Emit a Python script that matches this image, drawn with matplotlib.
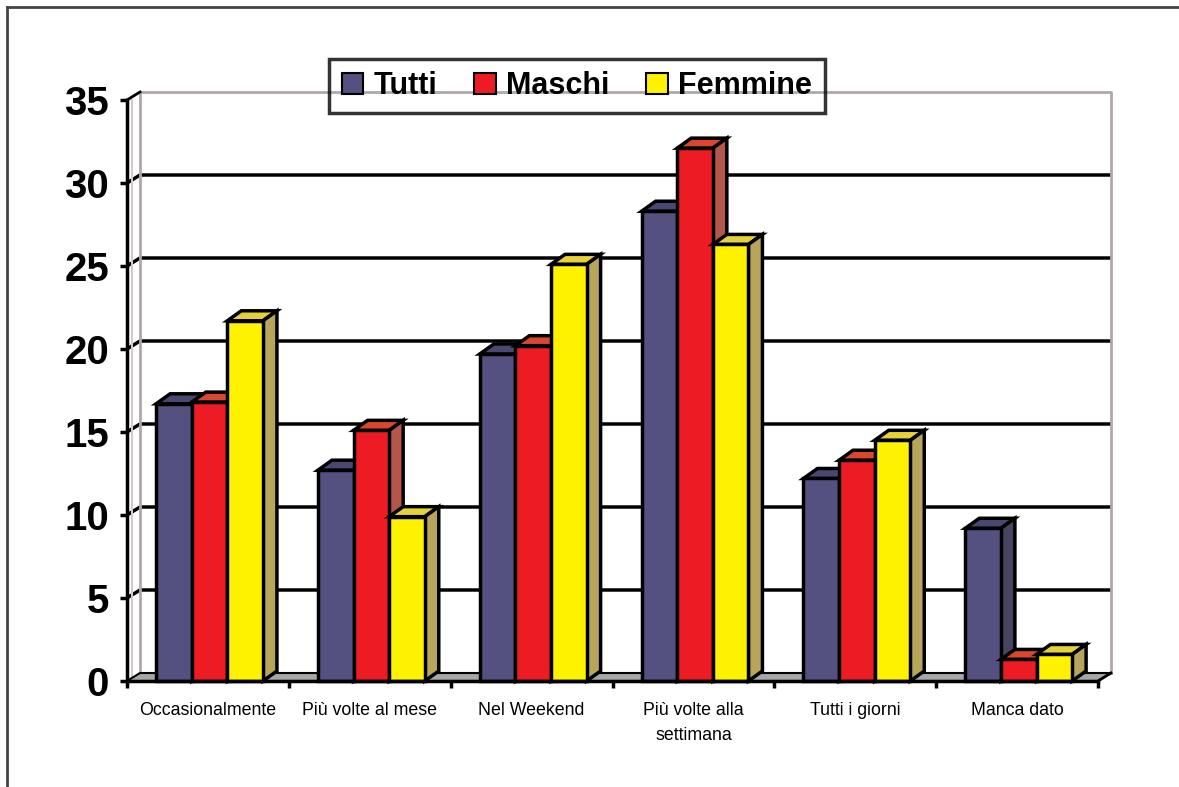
import matplotlib
matplotlib.use("Agg")
import matplotlib.pyplot as plt
from matplotlib.patches import Polygon, Patch
from matplotlib.lines import Line2D

plt.rcParams['font.family'] = ['Liberation Sans', 'DejaVu Sans']

# dati
categorie = ['Occasionalmente', 'Più volte al mese', 'Nel Weekend',
             'Più volte alla\nsettimana', 'Tutti i giorni', 'Manca dato']
serie = ['Tutti', 'Maschi', 'Femmine']
tutti = [16.7, 12.7, 19.7, 28.3, 12.2, 9.2]
maschi = [16.8, 15.1, 20.2, 32.1, 13.3, 1.3]
femmine = [21.7, 9.9, 25.1, 26.3, 14.5, 1.6]
valori = [tutti, maschi, femmine]
y_ticks = [0, 5, 10, 15, 20, 25, 30, 35]

# colori: fronte, sopra, lato
col_fronte = ['#545080', '#ed1c24', '#fff200']
col_sopra = ['#4a4872', '#d9472f', '#e5d23a']
col_lato = ['#474460', '#b4574a', '#b6a55a']

W, H = 1179, 787
fig = plt.figure(figsize=(W / 100, H / 100), dpi=100)
ax = fig.add_axes([127 / W, (H - 681) / H, 971 / W, 581 / H])
ax.set_xlim(0, 6)
ax.set_ylim(0, 35)

ux = 6 / 971   # unita' x per pixel
uy = 35 / 581  # unita' y per pixel
dxw, dyw = 13 * ux, 8 * uy   # profondita' pareti
dxb, dyb = 14 * ux, 10 * uy  # profondita' barre

# parete di fondo con griglia
for v in y_ticks[1:-1]:
    ax.plot([0, dxw, 6 + dxw], [v, v + dyw, v + dyw], color='black', lw=2.5,
            zorder=1, clip_on=False, solid_capstyle='butt')
grigio = '#b0a8a8'
ax.plot([dxw, dxw, 6 + dxw, 6 + dxw], [dyw, 35 + dyw, 35 + dyw, dyw],
        color=grigio, lw=2, zorder=1, clip_on=False)
ax.plot([5 * ux, 5 * ux], [0.2, 35], color='#d0cccc', lw=1.5, zorder=1, clip_on=False)
ax.plot([0, dxw], [35, 35 + dyw], color='black', lw=2, zorder=1, clip_on=False)

# pavimento
ax.add_patch(Polygon([(0, 0), (6, 0), (6 + dxw, dyw), (dxw, dyw)], closed=True,
                     facecolor='#a7a7a7', edgecolor='black', lw=1.5, zorder=2, clip_on=False))

# barre 3D
larg = 0.22
for j in range(3):
    x_sx = [i + 0.18 + j * larg for i in range(6)]
    barre = ax.bar(x_sx, valori[j], width=larg, align='edge', color=col_fronte[j],
                   edgecolor='black', lw=2.5, clip_on=False)
    for i, (p, h) in enumerate(zip(barre, valori[j])):
        k = i * 3 + j
        p.set_zorder(3 + k * 0.1 + 0.05)
        x0 = x_sx[i]
        x1 = x0 + larg
        ax.add_patch(Polygon([(x0, h), (x1, h), (x1 + dxb, h + dyb), (x0 + dxb, h + dyb)],
                             closed=True, facecolor=col_sopra[j], edgecolor='black',
                             lw=2.5, zorder=3 + k * 0.1, clip_on=False))
        ax.add_patch(Polygon([(x1, 0), (x1 + dxb, dyb), (x1 + dxb, h + dyb), (x1, h)],
                             closed=True, facecolor=col_lato[j], edgecolor='black',
                             lw=2.5, zorder=3 + k * 0.1, clip_on=False))

ax.plot([6, 6 + dxw], [0, dyw], color='black', lw=2, zorder=10, clip_on=False)

# assi frontali
for s in ['top', 'right']:
    ax.spines[s].set_visible(False)
for s in ['left', 'bottom']:
    ax.spines[s].set_linewidth(2.5)
    ax.spines[s].set_zorder(20)
ax.set_yticks(y_ticks)
ax.set_yticklabels([str(v) for v in y_ticks], fontsize=29, fontweight='bold')
ax.tick_params(axis='y', length=5, width=2.5, pad=8)
ax.set_xticks(range(7))
ax.set_xticklabels([''] * 7)
ax.tick_params(axis='x', which='major', length=5, width=2.5)
ax.set_xticks([i + 0.5 for i in range(6)], minor=True)
ax.set_xticklabels(categorie, minor=True, fontsize=12.8)
ax.tick_params(axis='x', which='minor', length=0, pad=15)
for t in ax.get_xticklabels(minor=True):
    t.set_linespacing(1.6)

# legenda
maniglie = [Patch(facecolor=c, edgecolor='black', lw=1.5) for c in col_fronte]
leg = fig.legend(maniglie, serie, loc='center', ncol=3,
                 bbox_to_anchor=(577 / W, 1 - 86 / H),
                 prop={'size': 22, 'weight': 'bold'}, frameon=True, fancybox=False,
                 handlelength=0.7, handleheight=0.7, handletextpad=0.35,
                 columnspacing=1.2, borderpad=0.4)
leg.get_frame().set_facecolor('none')
leg.get_frame().set_edgecolor('black')
leg.get_frame().set_linewidth(2.5)

# cornice
fig.add_artist(Line2D([7 / W, 1], [1 - 7 / H, 1 - 7 / H], transform=fig.transFigure,
                      color='#444444', lw=2))
fig.add_artist(Line2D([7 / W, 7 / W], [0, 1 - 7 / H], transform=fig.transFigure,
                      color='#444444', lw=2))

fig.savefig('out.png', dpi=100)
